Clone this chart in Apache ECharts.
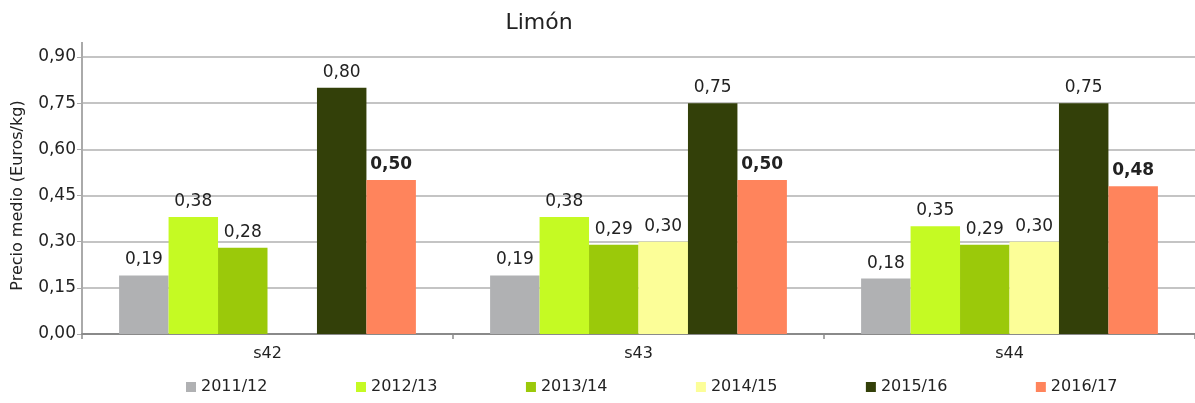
<!DOCTYPE html>
<html><head><meta charset="utf-8">
<script src="https://cdn.jsdelivr.net/npm/echarts@6/dist/echarts.min.js"></script>
<style>html,body{margin:0;padding:0;background:#fff}#c{width:1195px;height:403px}</style>
</head><body><div id="c"></div>
<script>
const categories = ['s42', 's43', 's44'];
const seriesNames = ['2011/12', '2012/13', '2013/14', '2014/15', '2015/16', '2016/17'];
const v2011 = [0.19, 0.19, 0.18];
const v2012 = [0.38, 0.38, 0.35];
const v2013 = [0.28, 0.29, 0.29];
const v2014 = [null, 0.30, 0.30];
const v2015 = [0.80, 0.75, 0.75];
const v2016 = [0.50, 0.50, 0.48];
const yTicks = [0, 0.15, 0.30, 0.45, 0.60, 0.75, 0.90];
const colors = ['#B0B1B3', '#C5FA23', '#9BC90A', '#FCFE98', '#334009', '#FF845C'];
const allValues = [v2011, v2012, v2013, v2014, v2015, v2016];
const FONT = 'DejaVu Sans';
const fmt = v => v.toFixed(2).replace('.', ',');
const series = allValues.map((d, i) => ({
  name: seriesNames[i], type: 'bar', data: d,
  itemStyle: { color: colors[i] },
  barGap: '0%', barCategoryGap: '20%',
  label: {
    show: true, position: 'top', distance: 7,
    fontFamily: FONT, fontSize: 17, color: '#222',
    fontWeight: i === 5 ? 'bold' : 'normal',
    formatter: p => p.value == null ? '' : fmt(p.value)
  }
}));
const chart = echarts.init(document.getElementById('c'));
chart.setOption({
  animation: false,
  color: colors,
  title: { text: 'Limón', left: 534, top: 7, textAlign: 'center',
    textStyle: { fontFamily: FONT, fontSize: 22, fontWeight: 'normal', color: '#222' } },
  grid: { left: 82, right: 0, top: 57, bottom: 69, containLabel: false },
  graphic: [{ type: 'line', shape: { x1: 82, y1: 42, x2: 82, y2: 57 },
    style: { stroke: '#aaa', lineWidth: 2 } }],
  legend: {
    top: 374, left: 181, itemWidth: 10, itemHeight: 10, itemGap: 88.5,
    icon: 'rect',
    textStyle: { fontFamily: FONT, fontSize: 16, color: '#222' },
    data: seriesNames
  },
  xAxis: {
    type: 'category', data: categories,
    axisLine: { lineStyle: { color: '#8a8a8a', width: 2 } },
    axisTick: { show: true, length: 5, lineStyle: { color: '#8a8a8a', width: 1.5 } },
    axisLabel: { fontFamily: FONT, fontSize: 16, color: '#222', margin: 12 }
  },
  yAxis: {
    type: 'value', min: 0, max: 0.9, interval: 0.15,
    name: 'Precio medio (Euros/kg)', nameLocation: 'middle', nameGap: 56,
    nameTextStyle: { fontFamily: FONT, fontSize: 16, color: '#222' },
    axisLine: { show: true, lineStyle: { color: '#aaa', width: 2 } },
    axisTick: { show: true, length: 5, lineStyle: { color: '#aaa' } },
    axisLabel: { fontFamily: FONT, fontSize: 17, color: '#222', margin: 6,
      formatter: v => fmt(v) },
    splitLine: { lineStyle: { color: '#b0b0b0', width: 1.5 } }
  },
  series: series
});
</script></body></html>
